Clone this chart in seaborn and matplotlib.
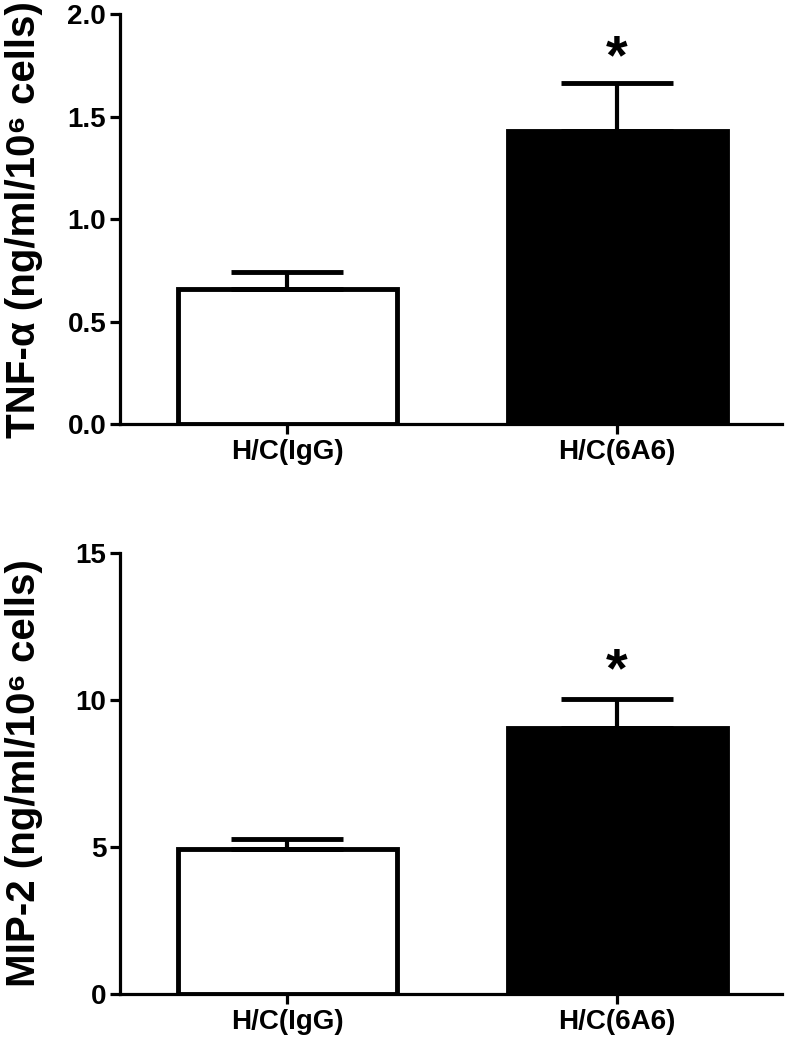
import numpy as np
import pandas as pd
import seaborn as sns
import matplotlib.pyplot as plt

groups = ["H/C(IgG)", "H/C(6A6)"]
tnf_mean = [0.66, 1.43]
tnf_sem = [0.08, 0.235]
mip_mean = [4.95, 9.05]
mip_sem = [0.33, 1.0]
bar_colors = ["white", "black"]

sns.set_theme(style="ticks")
plt.rcParams['font.family'] = ['Liberation Sans', 'DejaVu Sans']
plt.rcParams['font.weight'] = 'bold'
plt.rcParams['text.color'] = 'black'
plt.rcParams['axes.labelcolor'] = 'black'
plt.rcParams['xtick.labelcolor'] = 'black'
plt.rcParams['ytick.labelcolor'] = 'black'

fig = plt.figure(figsize=(7.9, 10.5), dpi=100)
ax1 = fig.add_axes([0.152, 0.596, 0.838, 0.3907])
ax2 = fig.add_axes([0.152, 0.0533, 0.838, 0.42])


def draw_panel(ax, means, sems, ylabel, ylim, yticks, ticklabels, star_y):
    df = pd.DataFrame({"group": groups, "value": means})
    sns.barplot(data=df, x="group", y="value", hue="group", palette=bar_colors,
                edgecolor="black", linewidth=3.5, width=0.664, legend=False,
                errorbar=None, ax=ax)
    ax.errorbar(range(len(groups)), means, yerr=[[0] * len(sems), sems],
                fmt="none", ecolor="black", elinewidth=3, capsize=40,
                capthick=3.5, zorder=1)
    ax.text(1, star_y, "*", ha="center", va="center", fontsize=40,
            fontweight="bold")
    ax.set_xlim(-0.506, 1.5)
    ax.set_ylim(*ylim)
    ax.set_yticks(yticks)
    ax.set_yticklabels(ticklabels)
    ax.set_xlabel("")
    ax.set_ylabel(ylabel, fontsize=29, fontweight="bold")
    ax.yaxis.set_label_coords(-0.117, 0.5)
    sns.despine(ax=ax)
    for s in ["left", "bottom"]:
        ax.spines[s].set_linewidth(2.3)
        ax.spines[s].set_color("black")
    ax.tick_params(axis="both", width=2.3, length=7, color="black",
                   direction="out")
    ax.tick_params(axis="y", labelsize=20, pad=3)
    ax.tick_params(axis="x", labelsize=20, pad=4)
    for lab in ax.get_xticklabels() + ax.get_yticklabels():
        lab.set_fontweight("bold")


draw_panel(ax1, tnf_mean, tnf_sem, "TNF-α (ng/ml/10⁶ cells)", (0, 2.0),
           [0, 0.5, 1.0, 1.5, 2.0], ["0.0", "0.5", "1.0", "1.5", "2.0"], 1.78)
draw_panel(ax2, mip_mean, mip_sem, "MIP-2 (ng/ml/10⁶ cells)", (0, 15),
           [0, 5, 10, 15], ["0", "5", "10", "15"], 10.95)

fig.savefig("out.png", dpi=100, facecolor="white")
